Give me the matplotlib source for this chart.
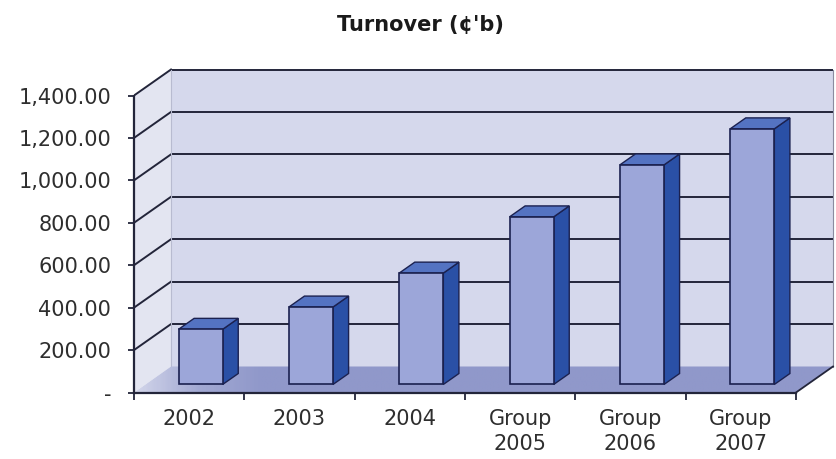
import matplotlib
matplotlib.use("Agg")
import matplotlib.pyplot as plt
import numpy as np
from matplotlib.patches import Polygon
from matplotlib.colors import LinearSegmentedColormap
from matplotlib.ticker import FuncFormatter

# ---- data -------------------------------------------------------------
categories = ["2002", "2003", "2004", "Group\n2005", "Group\n2006", "Group\n2007"]
turnover = [260, 365, 525, 790, 1035, 1205]          # ¢ billions
value_ticks = [0, 200, 400, 600, 800, 1000, 1200, 1400]
title = "Turnover (¢'b)"

# ---- figure / axes ----------------------------------------------------
W, H = 837, 459
fig = plt.figure(figsize=(W / 100, H / 100), dpi=100)

n = len(categories)
vmax = value_ticks[-1]
front_left, front_right = 134, 796      # px of the front x-axis
front_zero, front_top = 392.5, 95.5     # px of 0 and vmax on the front axis
ppx = (front_right - front_left) / n
ppy = (front_zero - front_top) / vmax
xmax, ymax = 6.36, 1540

ax = fig.add_axes([front_left / W, (H - front_zero) / H,
                   xmax * ppx / W, ymax * ppy / H])
ax.set_xlim(0, xmax)
ax.set_ylim(0, ymax)
ax.patch.set_alpha(0)

# oblique depth vector of the 3-D box, in data units
DX = 37 / ppx
DY = 26 / ppy

grid_c = "#23253a"
wall_back = "#d5d8ec"
wall_side = "#e3e5f1"
floor_c = "#9098ca"
bar_front = "#9ca6d9"
bar_side = "#2a50a6"
bar_top = "#5473c2"
edge_c = "#1b2150"


def poly(pts, fc, ec="none", lw=0, z=1):
    p = Polygon(pts, closed=True, facecolor=fc, edgecolor=ec,
                linewidth=lw, zorder=z, joinstyle="miter")
    ax.add_patch(p)
    return p


# walls
poly([(0, 0), (DX, DY), (DX, vmax + DY), (0, vmax)], wall_side, z=0.5)
poly([(DX, DY), (n + DX, DY), (n + DX, vmax + DY), (DX, vmax + DY)],
     wall_back, z=0.5)

# floor, lighter towards the left wall
floor = poly([(0, 0), (n, 0), (n + DX, DY), (DX, DY)], "none", z=0.8)
floor_cmap = LinearSegmentedColormap.from_list(
    "floor", [(0.0, "#d2d5ea"), (0.09, "#a2a9d3"), (0.18, floor_c), (1.0, floor_c)])
grad = np.linspace(0, 1, 400)[None, :]
img = ax.imshow(grad, cmap=floor_cmap, extent=(0, n + DX, 0, DY),
                aspect="auto", zorder=0.8, interpolation="bilinear")
img.set_clip_path(floor)

# gridlines on back wall and left wall
for v in value_ticks[1:]:
    ax.plot([DX, n + DX], [v + DY, v + DY], color=grid_c, lw=1.4,
            zorder=0.7, solid_capstyle="butt")
    ax.plot([0, DX], [v, v + DY], color=grid_c, lw=1.4, zorder=0.7)
ax.plot([n + DX, n + DX], [DY, vmax + DY], color="#8a8ca0", lw=0.8, zorder=0.7)
ax.plot([DX, DX], [DY, vmax + DY], color="#b8bbd0", lw=0.8, zorder=0.7)
ax.plot([n, n + DX], [0, DY], color=grid_c, lw=1.3, zorder=0.9)

# bars
f0, f1 = 0.31, 0.73
half_w = 0.20
ddx, ddy = (f1 - f0) * DX, (f1 - f0) * DY
for i, v in enumerate(turnover):
    cx = i + 0.5
    x0 = cx - half_w + f0 * DX
    x1 = cx + half_w + f0 * DX
    y0 = f0 * DY
    y1 = y0 + v
    poly([(x1, y0), (x1 + ddx, y0 + ddy), (x1 + ddx, y1 + ddy), (x1, y1)],
         bar_side, edge_c, 1.0, z=2)
    poly([(x0, y1), (x1, y1), (x1 + ddx, y1 + ddy), (x0 + ddx, y1 + ddy)],
         bar_top, edge_c, 1.0, z=2)
    poly([(x0, y0), (x1, y0), (x1, y1), (x0, y1)],
         bar_front, edge_c, 1.2, z=2.1)

# axes lines
for s in ("top", "right"):
    ax.spines[s].set_visible(False)
ax.spines["left"].set_bounds(0, vmax)
ax.spines["bottom"].set_bounds(0, n)
for s in ("left", "bottom"):
    ax.spines[s].set_color(grid_c)
    ax.spines[s].set_linewidth(1.6)
    ax.spines[s].set_zorder(3)

ax.set_yticks(value_ticks)
ax.yaxis.set_major_formatter(
    FuncFormatter(lambda v, p: "-" if v == 0 else f"{v:,.2f}"))
ax.tick_params(axis="y", length=4.5, width=1.3, color=grid_c, pad=12,
               labelsize=15, labelcolor="#2e2e2e")

ax.set_xticks([i + 0.5 for i in range(n)])
ax.set_xticklabels(categories, linespacing=1.3)
ax.set_xticks(range(n + 1), minor=True)
ax.tick_params(axis="x", which="major", length=0, pad=12, labelsize=15,
               labelcolor="#2e2e2e")
ax.tick_params(axis="x", which="minor", length=5, width=1.3, color=grid_c)

fig.text(420 / W, 1 - 25 / H, title, ha="center", va="center",
         fontsize=15, fontweight="bold", color="#1a1a1a")

fig.savefig("out.png", dpi=100)
